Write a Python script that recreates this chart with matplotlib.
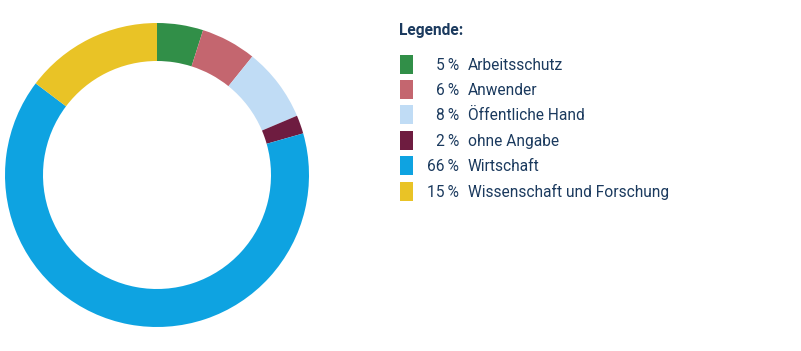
import matplotlib
matplotlib.use("Agg")
import matplotlib.pyplot as plt
from matplotlib.patches import Rectangle

labels = ["Arbeitsschutz", "Anwender", "Öffentliche Hand", "ohne Angabe", "Wirtschaft", "Wissenschaft und Forschung"]
values = [5, 6, 8, 2, 66, 15]
colors = ["#318f48", "#c4666f", "#c0dcf5", "#6e1c40", "#0ea3e1", "#e9c326"]
text_color = "#1b3a5e"

W, H = 801, 351
fig = plt.figure(figsize=(W / 100, H / 100), dpi=100)

# Donut
cx, cy, R = 157, 175, 152
ax = fig.add_axes([(cx - R) / W, (H - cy - R) / H, 2 * R / W, 2 * R / H])
ax.pie(values, colors=colors, startangle=90, counterclock=False, radius=1.0,
       wedgeprops=dict(width=0.25, edgecolor="none", linewidth=0))
ax.set_xlim(-1, 1)
ax.set_ylim(-1, 1)
ax.set_aspect("equal")
ax.axis("off")

# Legend
fam = ["Roboto", "DejaVu Sans"]
fs = 11.2
fig.text(399 / W, 1 - 30 / H, "Legende:", color=text_color, fontsize=fs,
         family=fam, fontweight="semibold", va="center", ha="left")
y0, dy = 64, 25.4
for i, (lab, v, c) in enumerate(zip(labels, values, colors)):
    yc = y0 + i * dy
    fig.patches.append(Rectangle((400 / W, 1 - (yc + 9.5) / H), 13 / W, 19 / H,
                                 transform=fig.transFigure, facecolor=c, edgecolor="none"))
    fig.text(459 / W, 1 - (yc + 1) / H, f"{v}\u2009%", color=text_color, fontsize=fs,
             family=fam, va="center", ha="right")
    fig.text(468 / W, 1 - (yc + 1) / H, lab, color=text_color, fontsize=fs,
             family=fam, va="center", ha="left")

fig.savefig("out.png", dpi=100)
